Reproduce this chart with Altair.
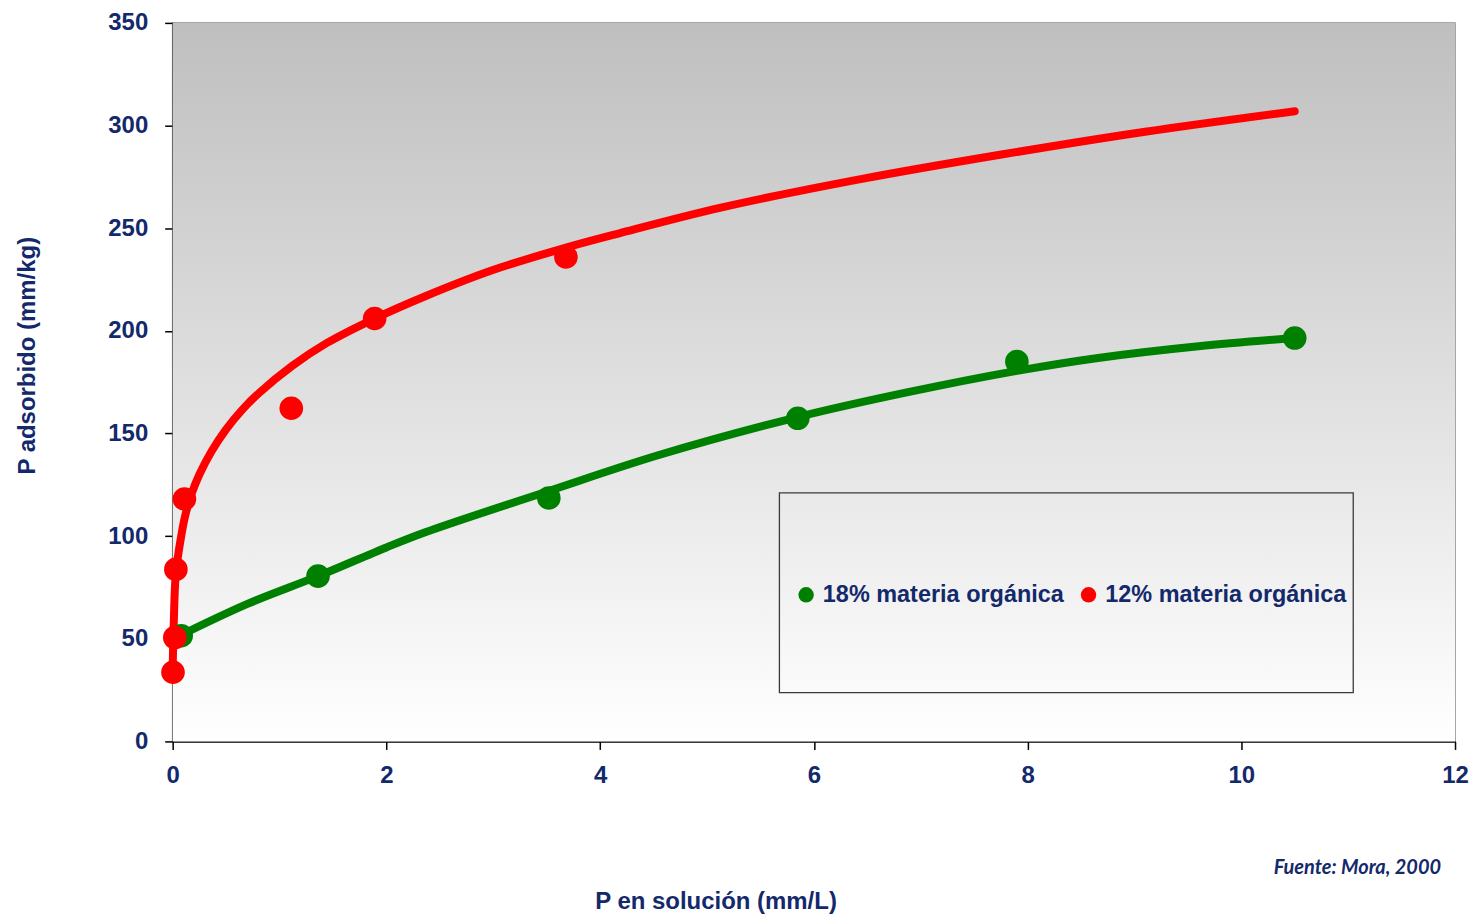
import altair as alt
import pandas as pd

# ---- data ----
series = ["18% materia orgánica", "12% materia orgánica"]
colors = ["#008000", "#FF0000"]

green_pts_x = [0.08, 1.36, 3.52, 5.85, 7.90, 10.50]
green_pts_y = [51.5, 80.5, 118.6, 157.4, 185.0, 196.5]

red_pts_x = [0.003, 0.02, 0.03, 0.11, 1.11, 1.89, 3.68]
red_pts_y = [33.7, 50.6, 83.8, 118.1, 162.3, 206.0, 236.0]

green_fit_x = [0.065, 0.7, 1.36, 2.0, 2.37, 3.52, 4.55, 5.85, 6.87, 7.90, 8.66, 9.6, 10.5]
green_fit_y = [51.5, 67.0, 80.5, 94.5, 102.0, 122.0, 139.5, 158.0, 170.0, 180.5, 186.8, 192.5, 196.5]

red_fit_x = [0.0, 0.01, 0.03, 0.08, 0.12, 0.18, 0.25, 0.36, 0.5, 0.65, 0.81, 1.12, 1.44, 1.89,
             2.37, 2.99, 3.68, 4.18, 5.13, 6.45, 7.77, 9.10, 10.5]
red_fit_y = [36, 57, 82, 100, 110.5, 121, 130, 141, 152, 161.5, 169.8, 183, 194, 206,
             217, 229.5, 240.5, 247.5, 260, 274, 286, 297, 307]

x_ticks = [0, 2, 4, 6, 8, 10, 12]
y_ticks = [0, 50, 100, 150, 200, 250, 300, 350]

# ---- styling ----
NAVY = "#13296B"
FONT = "Liberation Sans, Arial, sans-serif"
W, H = 1285, 720

pts = pd.concat([
    pd.DataFrame({"x": green_pts_x, "y": green_pts_y, "serie": series[0]}),
    pd.DataFrame({"x": red_pts_x, "y": red_pts_y, "serie": series[1]}),
])
fits = pd.concat([
    pd.DataFrame({"x": green_fit_x, "y": green_fit_y, "serie": series[0]}),
    pd.DataFrame({"x": red_fit_x, "y": red_fit_y, "serie": series[1]}),
])

xscale = alt.Scale(domain=[0, 12], nice=False, zero=False)
yscale = alt.Scale(domain=[0, 350], nice=False)
cscale = alt.Scale(domain=series, range=colors)

xenc = alt.X("x:Q", scale=xscale, axis=alt.Axis(
    values=x_ticks, format="d", title="P en solución (mm/L)", titleX=544, titleY=160,
    titleBaseline="middle", labelPadding=14, labelFlush=False, labelOverlap=False))
yenc = alt.Y("y:Q", scale=yscale, axis=alt.Axis(
    values=y_ticks, format="d", title="P adsorbido (mm/kg)", titleX=-145, titleY=333,
    titleAlign="center", titleBaseline="middle", labelPadding=17, labelFlush=False,
    labelOverlap=False))

one = pd.DataFrame({"a": [0]})
gradient = alt.LinearGradient(
    gradient="linear",
    stops=[alt.GradientStop(color="#BFBFBF", offset=0),
           alt.GradientStop(color="#FFFFFF", offset=1)],
    x1=0, x2=0, y1=0, y2=1)

bg = alt.Chart(one).mark_rect(fill=gradient).encode(
    x=alt.value(0), x2=alt.value(W), y=alt.value(0), y2=alt.value(H))

box = alt.Chart(one).mark_rect(fillOpacity=0, stroke="#3a3a3a", strokeWidth=1.3).encode(
    x=alt.value(608), x2=alt.value(1183), y=alt.value(471), y2=alt.value(671))

lines = alt.Chart(fits).mark_line(strokeWidth=8, interpolate="catmull-rom", strokeCap="round").encode(
    x=xenc, y=yenc,
    color=alt.Color("serie:N", scale=cscale, legend=None),
    detail="serie:N",
    order=alt.Order("x:Q"))

points = alt.Chart(pts).mark_circle(size=560, opacity=1).encode(
    x=alt.X("x:Q", scale=xscale), y=alt.Y("y:Q", scale=yscale),
    color=alt.Color("serie:N", scale=cscale, legend=alt.Legend(
        title=None, orient="none", legendX=623, legendY=561, direction="horizontal",
        symbolType="circle", symbolSize=240, symbolStrokeWidth=0,
        labelFont=FONT, labelFontSize=23.5, labelFontWeight="bold", labelColor=NAVY,
        labelOffset=5, columnPadding=12, labelLimit=400)))

source = alt.Chart(one).mark_text(
    text="Fuente: Mora, 2000", font="Lato, Open Sans, sans-serif", fontSize=20,
    fontStyle="italic", fontWeight="bold", color=NAVY, align="right", baseline="middle"
).encode(x=alt.value(1271), y=alt.value(847))

chart = alt.layer(bg, box, lines, points, source).resolve_legend(color="independent").properties(
    width=W, height=H, autosize="none",
    padding={"left": 165, "top": 14, "right": 14, "bottom": 175},
    background="white"
).configure_view(stroke="#8a8a8a", strokeWidth=1.5).configure_axis(
    grid=False, domainColor="#000000", domainWidth=1.5, tickColor="#000000",
    tickWidth=1.5, tickSize=8,
    labelFont=FONT, labelFontSize=24, labelFontWeight="bold", labelColor=NAVY,
    titleFont=FONT, titleFontSize=24, titleFontWeight="bold", titleColor=NAVY)

chart.save("out.html", embed_options={"renderer": "svg", "actions": False})
